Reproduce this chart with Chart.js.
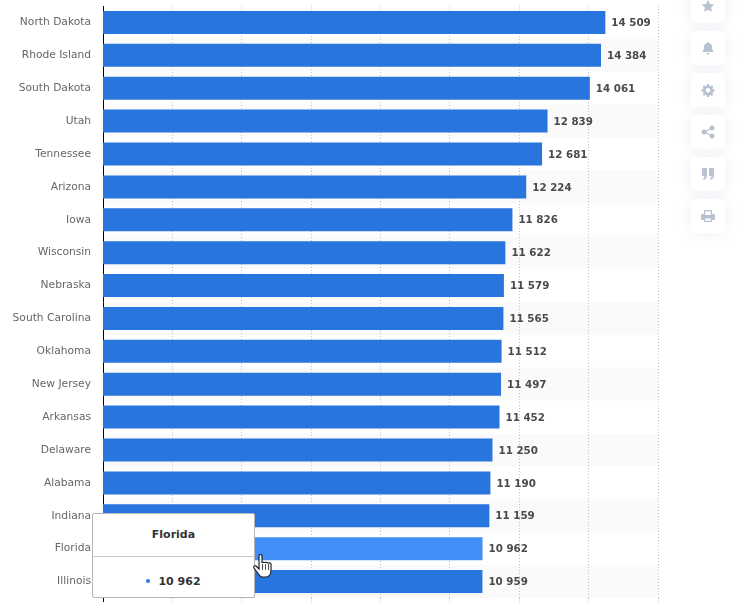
<!DOCTYPE html>
<html>
<head>
<meta charset="utf-8">
<style>
  html, body { margin: 0; padding: 0; background: #fff; overflow: hidden; }
  #wrap { position: relative; width: 738px; height: 602px; }
  #grafica { position: absolute; left: 0; top: 0; }
  #tip { position: absolute; left: 92px; top: 513px; width: 161px; height: 83px; background: #fff; border: 1px solid #b5b5b5; border-radius: 2px; font-family: "DejaVu Sans", sans-serif; font-weight: bold; color: #333; text-align: center; }
  #tip .titulo { height: 42px; line-height: 41px; font-size: 11px; border-bottom: 1px solid #c8c8c8; }
  #tip .valor { line-height: 50px; font-size: 11px; }
  #tip .valor i { display: inline-block; width: 4px; height: 4px; border-radius: 50%; background: #2b78e4; margin-right: 8px; vertical-align: 2px; }
  .boton { position: absolute; left: 691px; width: 34px; height: 34px; background: #fff; border-radius: 4px; box-shadow: 0 0 14px rgba(90, 110, 150, 0.10); }
  .boton svg { position: absolute; left: 10px; top: 10px; width: 14px; height: 14px; fill: #b9c2d0; }
  #mano { position: absolute; left: 253px; top: 554px; width: 20px; height: 25px; }
</style>
</head>
<body>
<div id="wrap">
  <canvas id="grafica" width="738" height="602"></canvas>
  <div id="tip"><div class="titulo"></div><div class="valor"></div></div>
  <div class="boton" style="top:-11px"><svg viewBox="0 0 14 14"><path d="M7 1l1.900 3.900 4.300.6-3.100 3 .7 4.300L7 10.800 3.200 12.800l.7-4.300-3.100-3 4.300-.6z"/></svg></div>
  <div class="boton" style="top:31px"><svg viewBox="0 0 14 14"><path d="M7 1a1 1 0 0 1 1 1c2 .5 3 2 3 4 0 3 1 4 2 5H1c1-1 2-2 2-5 0-2 1-3.500 3-4a1 1 0 0 1 1-1zM5.500 12h3a1.500 1.500 0 0 1-3 0z"/></svg></div>
  <div class="boton" style="top:73px"><svg viewBox="0 0 14 14"><path fill-rule="evenodd" d="M6 1h2l.3 1.700 1.200.5L11 2.200l1.400 1.400-1 1.500.5 1.200 1.700.3v2l-1.700.3-.5 1.200 1 1.500-1.400 1.400-1.500-1-1.200.5L8 14H6l-.3-1.700-1.200-.5-1.500 1-1.400-1.400 1-1.500-.5-1.200L.4 8.400v-2l1.700-.3.5-1.200-1-1.500L3 2.200l1.500 1 1.200-.5zM7 5a2.300 2.300 0 1 0 0 4.600A2.300 2.300 0 0 0 7 5z"/></svg></div>
  <div class="boton" style="top:115px"><svg viewBox="0 0 14 14"><circle cx="3" cy="7" r="2.500"/><circle cx="11" cy="3" r="2.500"/><circle cx="11" cy="11" r="2.500"/><path d="M3 6.400l8-4 .5 1-8 4zM3 7.600l8 4 .5-1-8-4z"/></svg></div>
  <div class="boton" style="top:157px"><svg viewBox="0 0 14 14"><path d="M1 1h5v7c0 2-1 4-3 5l-1-1c1-1 1.500-2 1.500-3H1zM8 1h5v7c0 2-1 4-3 5l-1-1c1-1 1.500-2 1.500-3H8z"/></svg></div>
  <div class="boton" style="top:199px"><svg viewBox="0 0 14 14"><path fill-rule="evenodd" d="M3 1h8v4h2a1 1 0 0 1 1 1v5h-3v2H3v-2H0V6a1 1 0 0 1 1-1h2zM4.200 2.200V6h5.600V2.200zM4.200 9.500v2.300h5.600V9.500z"/></svg></div>
  <svg id="mano" viewBox="0 0 20 25"><path d="M6 2c0-2 3-2 3 0v7c0-1 3-1 3 0 0-1 3-1 3 .5 0-1 3-1 3 .5v6c0 4-2 7-5 7H9c-2 0-3-2-5-5l-3-4c-1-2 1-3 2-2l3 3z" fill="#fff" stroke="#222" stroke-width="1.200"/><path d="M9.500 10v6M12.500 10v6M15.500 10v6" stroke="#222" stroke-width=".8"/></svg>
</div>
<script src="https://cdn.jsdelivr.net/npm/chart.js@4"></script>
<script>
const categorias = ['North Dakota', 'Rhode Island', 'South Dakota', 'Utah', 'Tennessee', 'Arizona', 'Iowa', 'Wisconsin', 'Nebraska', 'South Carolina', 'Oklahoma', 'New Jersey', 'Arkansas', 'Delaware', 'Alabama', 'Indiana', 'Florida', 'Illinois'];
const valores = [14509, 14384, 14061, 12839, 12681, 12224, 11826, 11622, 11579, 11565, 11512, 11497, 11452, 11250, 11190, 11159, 10962, 10959];
const indiceActivo = 16;

// Separador de miles con espacio, como en la original
const formato = v => String(v).replace(/\B(?=(\d{3})+$)/g, ' ');

// Franjas alternas detras de las barras
const franjas = {
    id: 'franjas',
    beforeDraw(chart) {
        const { ctx, chartArea, scales } = chart;
        const alto = scales.y.getPixelForValue(1) - scales.y.getPixelForValue(0);
        ctx.save();
        ctx.fillStyle = '#fafafa';
        categorias.forEach((c, i) => {
            if (i % 2 === 1) {
                ctx.fillRect(chartArea.left, scales.y.getPixelForValue(i) - alto / 2, chartArea.width, alto);
            }
        });
        ctx.restore();
    }
};

// Valor al final de cada barra
const etiquetas = {
    id: 'etiquetas',
    afterDatasetsDraw(chart) {
        const { ctx } = chart;
        ctx.save();
        ctx.font = 'bold 10.3px "DejaVu Sans"';
        ctx.fillStyle = '#4a4a4a';
        ctx.textBaseline = 'middle';
        chart.getDatasetMeta(0).data.forEach((barra, i) => {
            ctx.fillText(formato(valores[i]), barra.x + 6, barra.y + 1);
        });
        ctx.restore();
    }
};

function tooltipExterno({ tooltip }) {
    if (!tooltip.dataPoints || !tooltip.dataPoints.length) return;
    const punto = tooltip.dataPoints[0];
    document.querySelector('#tip .titulo').textContent = punto.label;
    document.querySelector('#tip .valor').innerHTML = '<i></i>' + formato(punto.raw);
}

const grafica = new Chart(document.getElementById('grafica'), {
    type: 'bar',
    data: {
        labels: categorias,
        datasets: [{
            data: valores,
            xAxisID: 'xBarras',
            backgroundColor: '#2875de',
            hoverBackgroundColor: '#418ff6',
            inflateAmount: 0,
            categoryPercentage: 0.7,
            barPercentage: 1
        }]
    },
    plugins: [franjas, etiquetas],
    options: {
        indexAxis: 'y',
        responsive: false,
        animation: false,
        layout: { padding: { top: 6, right: 80, bottom: 0, left: 0 } },
        plugins: {
            legend: { display: false },
            tooltip: { enabled: false, external: tooltipExterno }
        },
        scales: {
            // Eje oculto: las barras de la original quedan 1px antes que la reticula
            xBarras: { axis: 'x', display: false, min: 0, max: 16030 },
            x: {
                min: 0,
                max: 16000,
                ticks: { stepSize: 2000, display: false },
                grid: {
                    color: '#c4c4c4',
                    lineWidth: 1,
                    tickLength: 4,
                    tickColor: c => (c.index === 0 ? '#000' : '#c4c4c4'),
                    tickBorderDash: c => (c.index === 0 ? [] : [1, 2])
                },
                border: { display: false, dash: [1, 2] }
            },
            y: {
                afterFit(scale) {
                    scale.width = 103;
                    scale.paddingTop = 0;
                    scale.paddingBottom = 0;
                },
                ticks: { color: '#666', font: { family: '"DejaVu Sans"', size: 10.7 }, padding: 12, autoSkip: false },
                grid: { display: false, drawTicks: false },
                border: { color: '#000', width: 1 }
            }
        }
    }
});

grafica.tooltip.setActiveElements([{ datasetIndex: 0, index: indiceActivo }], { x: 250, y: 548 });
grafica.setActiveElements([{ datasetIndex: 0, index: indiceActivo }]);
grafica.update();
</script>
</body>
</html>
